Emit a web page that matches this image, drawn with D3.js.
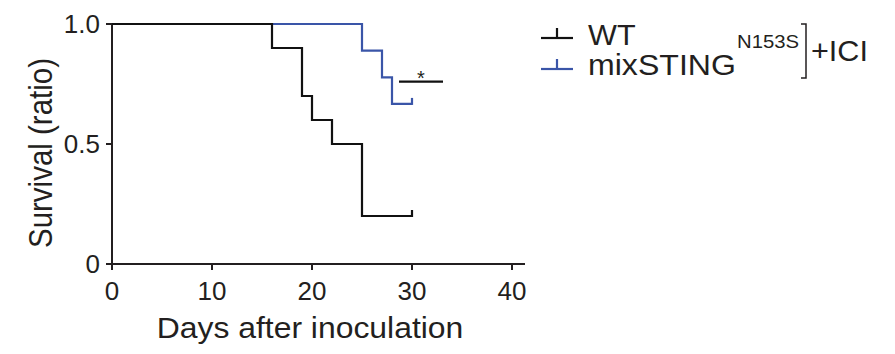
<!DOCTYPE html>
<html><head><meta charset="utf-8">
<script src="https://cdn.jsdelivr.net/npm/d3@7"></script>
<style>body{margin:0;background:#fff}svg{display:block}text{font-family:"Liberation Sans",Arial,sans-serif;fill:#231f20}</style>
</head><body><svg id="c" width="895" height="354"></svg>
<script>
const xTicks = [0, 10, 20, 30, 40];
const yTicks = [0, 0.5, 1.0];
const yTickLabels = ["0", "0.5", "1.0"];
const wtDays = [0, 16, 19, 20, 22, 25, 30];
const wtSurv = [1, 0.9, 0.7, 0.6, 0.5, 0.2, 0.2];
const mixDays = [0, 25, 27, 28, 30];
const mixSurv = [1, 0.889, 0.778, 0.667, 0.667];
const seriesNames = ["WT", "mixSTING"];
const colors = ["#111111", "#3a55a8"];
const sigDays = [28.7, 33.1];
const sigLevel = 0.76;

const svg = d3.select("#c");
const x = d3.scaleLinear().domain([0, 40]).range([112, 512]);
const y = d3.scaleLinear().domain([0, 1]).range([264, 24]);
const SX = 1.1;

function stext(g, tx, ty, str, size, anchor, sx) {
  return g.append("text")
    .attr("transform", `translate(${tx},${ty}) scale(${sx || 1},1)`)
    .attr("text-anchor", anchor || "start")
    .style("font-size", size + "px").text(str);
}

// axes
const xAxis = svg.append("g").attr("transform", "translate(0,264)");
xAxis.append("line").attr("x1", x(0) - 1).attr("x2", 525).attr("stroke", "#231f20").attr("stroke-width", 2);
xAxis.selectAll(".t").data(xTicks).join("line").attr("x1", d => x(d)).attr("x2", d => x(d)).attr("y1", 0).attr("y2", 6).attr("stroke", "#231f20").attr("stroke-width", 2);
xTicks.forEach(d => stext(xAxis, x(d), 36, d, 25, "middle", 1.04));

const yAxis = svg.append("g").attr("transform", "translate(112,0)");
yAxis.append("line").attr("y1", y(0) + 1).attr("y2", y(1) - 1).attr("stroke", "#231f20").attr("stroke-width", 2);
yAxis.selectAll(".t").data(yTicks).join("line").attr("x1", -6).attr("x2", 0).attr("y1", d => y(d)).attr("y2", d => y(d)).attr("stroke", "#231f20").attr("stroke-width", 2);
yTicks.forEach((d, i) => stext(yAxis, -12, y(d) + 9, yTickLabels[i], 25, "end", 1.04));

svg.append("text").attr("transform", "translate(52,153) rotate(-90) scale(1,1.15)").attr("text-anchor", "middle").style("font-size", "29.5px").text("Survival (ratio)");
stext(svg, 310, 338, "Days after inoculation", 29, "middle", SX);

// curves
const line = d3.line().x(d => x(d[0])).y(d => y(d[1])).curve(d3.curveStepAfter);
const series = [
  {days: mixDays, surv: mixSurv, color: colors[1]},
  {days: wtDays, surv: wtSurv, color: colors[0]}
];
series.forEach(s => {
  const pts = s.days.map((d, i) => [d, s.surv[i]]);
  svg.append("path").attr("d", line(pts)).attr("fill", "none").attr("stroke", s.color).attr("stroke-width", 2.2);
  const last = pts[pts.length - 1];
  svg.append("line").attr("x1", x(last[0])).attr("x2", x(last[0])).attr("y1", y(last[1]) + 1).attr("y2", y(last[1]) - 6).attr("stroke", s.color).attr("stroke-width", 2.2);
});

// significance
svg.append("line").attr("x1", x(sigDays[0])).attr("x2", x(sigDays[1])).attr("y1", y(sigLevel)).attr("y2", y(sigLevel)).attr("stroke", "#111").attr("stroke-width", 2.2);
stext(svg, (x(sigDays[0]) + x(sigDays[1])) / 2, 85, "*", 20, "middle", 1);

// legend
const lg = svg.append("g");
[38, 69].forEach((ly, i) => {
  lg.append("line").attr("x1", 541).attr("x2", 573).attr("y1", ly).attr("y2", ly).attr("stroke", colors[i]).attr("stroke-width", 2.2);
  lg.append("line").attr("x1", 557).attr("x2", 557).attr("y1", ly).attr("y2", ly - 10).attr("stroke", colors[i]).attr("stroke-width", 2.2);
});
stext(lg, 588, 45, seriesNames[0], 30, "start", 1.02);
const t2 = stext(lg, 588, 75, seriesNames[1], 30, "start", 1.07);
t2.append("tspan").attr("dx", 1).attr("dy", -27).style("font-size", "19px").text("N153S");
lg.append("path").attr("d", "M801,24 H806 V78 H801").attr("fill", "none").attr("stroke", "#231f20").attr("stroke-width", 1.5);
stext(lg, 811, 61, "+ICI", 30, "start", 1.02);
</script></body></html>
